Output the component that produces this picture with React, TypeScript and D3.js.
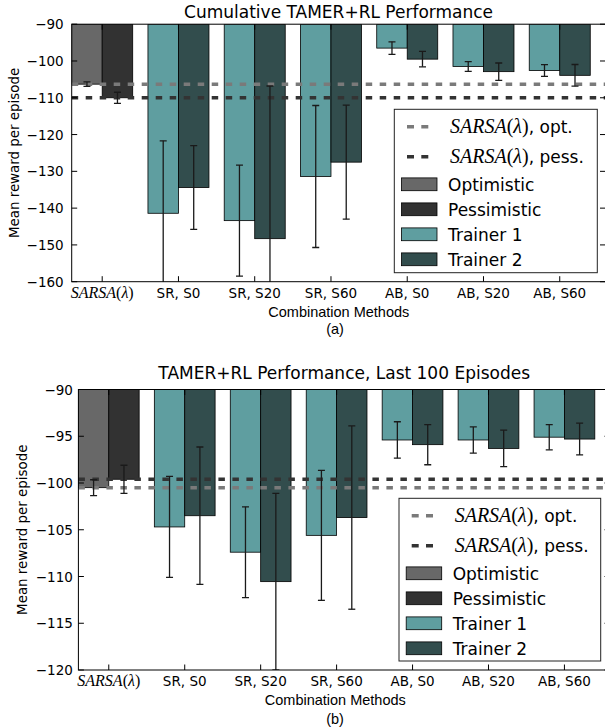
import React from 'react';
import * as d3 from 'd3';

const categories = ['SARSA(λ)', 'SR, S0', 'SR, S20', 'SR, S60', 'AB, S0', 'AB, S20', 'AB, S60'];

// (a) cumulative performance: first bar = Optimistic / Trainer 1, second = Pessimistic / Trainer 2
const cumFirst = [-106.3, -141.4, -143.4, -131.4, -96.5, -101.5, -102.6];
const cumFirstErr = [0.6, 19.7, 15.1, 19.3, 1.7, 1.35, 1.6];
const cumSecond = [-110.0, -134.4, -148.3, -127.5, -99.5, -102.9, -103.9];
const cumSecondErr = [1.5, 11.4, 41.5, 15.5, 2.1, 2.35, 2.95];
const cumSarsa = [-106.3, -110.0]; // opt., pess.
const cumTicks = [-90, -100, -110, -120, -130, -140, -150, -160];

// (b) last 100 episodes
const lastFirst = [-100.5, -104.7, -107.4, -105.6, -95.4, -95.4, -95.1];
const lastFirstErr = [0.85, 5.4, 4.85, 6.95, 1.95, 1.4, 1.35];
const lastSecond = [-99.6, -103.5, -110.55, -103.7, -95.9, -96.3, -95.3];
const lastSecondErr = [1.5, 7.35, 9.45, 9.8, 2.15, 1.95, 1.7];
const lastSarsa = [-100.5, -99.6];
const lastTicks = [-90, -95, -100, -105, -110, -115, -120];

const seriesNames = ['Optimistic', 'Pessimistic', 'Trainer 1', 'Trainer 2'];
const seriesColors = ['#686868', '#323232', '#5f9ea0', '#324d4d'];
const lineNames = ['opt.', 'pess.'];
const lineColors = ['#7a7a7a', '#333333'];

const SANS = 'DejaVu Sans';
const SERIF = 'Liberation Serif';
const DASH = '6.5 7.5';

function Sarsa({ size }) {
  return (
    <>
      <tspan fontFamily={SERIF} fontStyle="italic" fontSize={size}>SARSA</tspan>
      <tspan fontFamily={SERIF} fontSize={size}>(</tspan>
      <tspan fontFamily={SERIF} fontStyle="italic" fontSize={size}>λ</tspan>
      <tspan fontFamily={SERIF} fontSize={size}>)</tspan>
    </>
  );
}

function Panel({ id, layout, title, first, firstErr, second, secondErr, sarsa, ticks, caption }) {
  const { x0, x1, y0, y1, labelPad, ylabelX, titleY, xlabelX, captionX, captionY, legend } = layout;
  const x = d3.scaleLinear().domain([0, categories.length]).range([x0, x1]);
  const y = d3.scaleLinear().domain([ticks[ticks.length - 1], ticks[0]]).range([y1, y0]);
  const barW = 0.4;

  const bars = [];
  categories.forEach((c, i) => {
    const c1 = i === 0 ? seriesColors[0] : seriesColors[2];
    const c2 = i === 0 ? seriesColors[1] : seriesColors[3];
    [[first[i], firstErr[i], c1, i], [second[i], secondErr[i], c2, i + barW]].forEach(([v, e, col, xs], k) => {
      bars.push({ key: c + k, v, e, col, xs });
    });
  });

  const tickLen = 5.5;
  const lx = legend.x;
  const ly = legend.y;
  const rowY = [17.4, 47.4, 75, 100, 125, 150];

  return (
    <g>
      <defs>
        <clipPath id={'clip' + id}>
          <rect x={x0} y={y0} width={x1 - x0} height={y1 - y0} />
        </clipPath>
      </defs>
      <text x={(x0 + x1) / 2} y={titleY} textAnchor="middle" fontFamily={SANS} fontSize={17}>{title}</text>

      <g clipPath={`url(#clip${id})`}>
        {bars.map(b => (
          <rect key={b.key} x={x(b.xs)} y={y(ticks[0])} width={x(b.xs + barW) - x(b.xs)}
            height={y(b.v) - y(ticks[0])} fill={b.col} stroke="#000" strokeWidth={0.8} />
        ))}
        {sarsa.map((v, k) => (
          <line key={'s' + k} x1={x0} x2={x1} y1={y(v)} y2={y(v)} stroke={lineColors[k]}
            strokeWidth={3.5} strokeDasharray={DASH} />
        ))}
        {bars.map(b => {
          const cx = x(b.xs + barW / 2);
          return (
            <g key={'e' + b.key} stroke="#1a1a1a" strokeWidth={1.3}>
              <line x1={cx} x2={cx} y1={y(b.v + b.e)} y2={y(b.v - b.e)} />
              <line x1={cx - 3.5} x2={cx + 3.5} y1={y(b.v + b.e)} y2={y(b.v + b.e)} />
              <line x1={cx - 3.5} x2={cx + 3.5} y1={y(b.v - b.e)} y2={y(b.v - b.e)} />
            </g>
          );
        })}
      </g>

      {/* axes frame and inward ticks */}
      <rect x={x0} y={y0} width={x1 - x0} height={y1 - y0} fill="none" stroke="#000" strokeWidth={1} />
      {ticks.map(t => (
        <g key={'yt' + t}>
          <line x1={x0} x2={x0 + tickLen} y1={y(t)} y2={y(t)} stroke="#000" />
          <line x1={x1} x2={x1 - tickLen} y1={y(t)} y2={y(t)} stroke="#000" />
          <text x={x0 - labelPad} y={y(t) + 5} textAnchor="end" fontFamily={SANS} fontSize={13.5}>
            {String(t).replace('-', '−')}
          </text>
        </g>
      ))}
      {categories.map((c, i) => (
        <g key={'xt' + c}>
          <line x1={x(i + barW)} x2={x(i + barW)} y1={y1} y2={y1 - tickLen} stroke="#000" />
          <line x1={x(i + barW)} x2={x(i + barW)} y1={y0} y2={y0 + tickLen} stroke="#000" />
          <text x={x(i + barW)} y={y1 + 16} textAnchor="middle" fontFamily={SANS} fontSize={13.5}>
            {i === 0 ? <Sarsa size={16} /> : c}
          </text>
        </g>
      ))}
      <text x={xlabelX} y={y1 + 35} textAnchor="middle" fontFamily="Liberation Sans" fontSize={14.5}>Combination Methods</text>
      <text x={captionX} y={captionY} textAnchor="middle" fontFamily="Liberation Sans" fontSize={14.5}>{caption}</text>
      <text transform={`translate(${ylabelX},${(y0 + y1) / 2}) rotate(-90)`} textAnchor="middle"
        fontFamily={SANS} fontSize={13.4}>Mean reward per episode</text>

      {/* legend */}
      <rect x={lx} y={ly} width={legend.w} height={legend.h} fill="#fff" stroke="#222" strokeWidth={1} />
      {lineNames.map((n, k) => (
        <g key={'ll' + n}>
          <line x1={lx + 12.7} x2={lx + 34.3} y1={ly + rowY[k]} y2={ly + rowY[k]} stroke={lineColors[k]}
            strokeWidth={3.5} strokeDasharray="7 7.3" />
          <text x={lx + 55.7} y={ly + rowY[k] + 6.5} fontFamily={SANS} fontSize={17}>
            <Sarsa size={20} />{', ' + n}
          </text>
        </g>
      ))}
      {seriesNames.map((n, k) => (
        <g key={'lp' + n}>
          <rect x={lx + 7.2} y={ly + rowY[k + 2] - 6.4} width={35.5} height={12.8} fill={seriesColors[k]}
            stroke="#000" strokeWidth={0.8} />
          <text x={lx + 53.7} y={ly + rowY[k + 2] + 6.2} fontFamily={SANS} fontSize={17}>{n}</text>
        </g>
      ))}
    </g>
  );
}

const topLayout = {
  x0: 71.7, x1: 605.5, y0: 24.2, y1: 281.7, labelPad: 8, ylabelX: 19.3, titleY: 18,
  xlabelX: 338.8, captionX: 335, captionY: 334,
  legend: { x: 394.3, y: 109.3, w: 203, h: 163.4 },
};
const bottomLayout = {
  x0: 78.4, x1: 610, y0: 389.5, y1: 670, labelPad: 5.5, ylabelX: 27, titleY: 379,
  xlabelX: 335.3, captionX: 335, captionY: 724,
  legend: { x: 399, y: 498.3, w: 201.7, h: 162.7 },
};

export default function App() {
  return (
    <div style={{ position: 'absolute', left: 0, top: 0 }}>
      <svg width={605} height={728} style={{ display: 'block', background: '#fff' }}>
        <Panel id="a" layout={topLayout} title="Cumulative TAMER+RL Performance"
          first={cumFirst} firstErr={cumFirstErr} second={cumSecond} secondErr={cumSecondErr}
          sarsa={cumSarsa} ticks={cumTicks} caption="(a)" />
        <Panel id="b" layout={bottomLayout} title="TAMER+RL Performance, Last 100 Episodes"
          first={lastFirst} firstErr={lastFirstErr} second={lastSecond} secondErr={lastSecondErr}
          sarsa={lastSarsa} ticks={lastTicks} caption="(b)" />
      </svg>
    </div>
  );
}
